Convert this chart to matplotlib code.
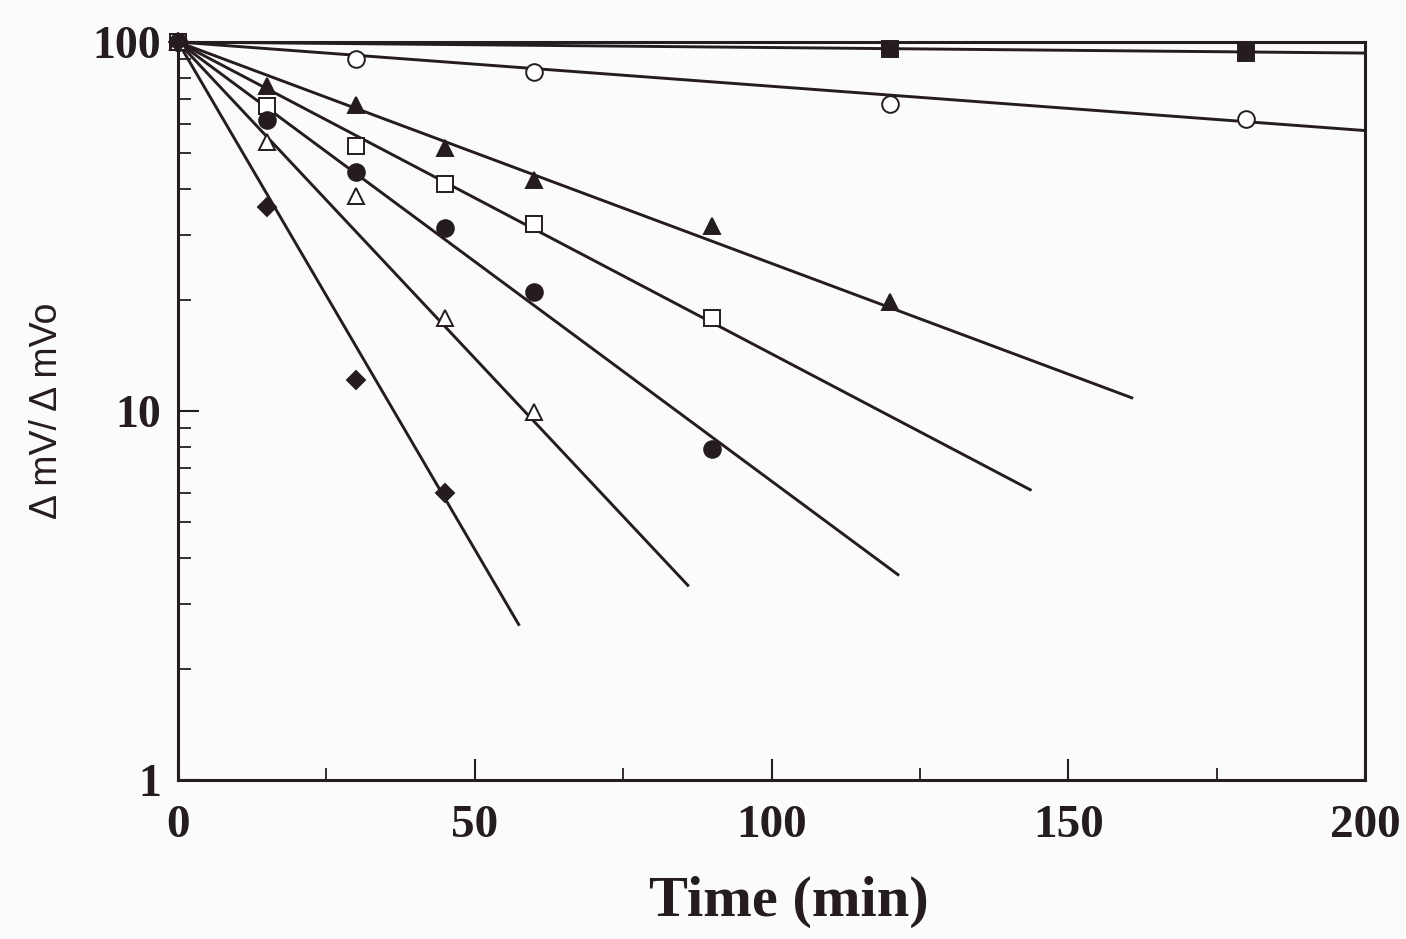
import matplotlib
matplotlib.use("Agg")
import matplotlib.pyplot as plt
import numpy as np
from matplotlib.ticker import FixedLocator, NullFormatter, LogLocator

INK = "#251c20"

# Data (time in min, relative response in %)
t_sq_f = [0, 120, 180]
v_sq_f = [100, 95.7, 93.4]
t_ci_o = [0, 30, 60, 120, 180]
v_ci_o = [100, 89.9, 82.9, 67.9, 61.8]
t_tr_f = [0, 15, 30, 45, 60, 90, 120]
v_tr_f = [100, 76.0, 67.5, 51.6, 42.3, 31.7, 19.7]
t_sq_o = [0, 15, 30, 45, 60, 90]
v_sq_o = [100, 67.1, 52.2, 41.2, 32.1, 17.9]
t_ci_f = [0, 15, 30, 45, 60, 90]
v_ci_f = [100, 61.5, 44.5, 31.3, 21.0, 7.89]
t_tr_o = [0, 15, 30, 45, 60]
v_tr_o = [100, 53.6, 38.3, 17.9, 9.94]
t_di_f = [0, 15, 30, 45]
v_di_f = [100, 35.7, 12.1, 6.0]

# fitted first-order lines: log10(y) = 2 - k*t, drawn up to t_end
fit_k = [0.00015, 0.0012, 0.0060, 0.00845, 0.0119, 0.01714, 0.0275]
fit_end = [200, 200, 160.7, 143.6, 121.3, 85.9, 57.4]

xticks = [0, 50, 100, 150, 200]
yticks = [1, 10, 100]

fig = plt.figure(figsize=(14.06, 9.39), dpi=100)
fig.patch.set_facecolor("#fbfbfb")
ax = fig.add_axes([178/1406, 1-780/939, (1365-178)/1406, (780-42)/939])
ax.set_facecolor("#fbfbfb")
ax.set_yscale("log")
ax.set_xlim(0, 200)
ax.set_ylim(1, 100)

for k, te in zip(fit_k, fit_end):
    tt = np.linspace(0, te, 50)
    ax.plot(tt, 10 ** (2 - k * tt), color=INK, lw=2.1, zorder=2)

ms = 12
series = [
    (t_sq_f, v_sq_f, "s", INK, ms),
    (t_ci_o, v_ci_o, "o", "white", ms),
    (t_tr_f, v_tr_f, "^", INK, ms),
    (t_sq_o, v_sq_o, "s", "white", ms),
    (t_ci_f, v_ci_f, "o", INK, ms),
    (t_tr_o, v_tr_o, "^", "white", ms),
    (t_di_f, v_di_f, "D", INK, 9),
]
for t, v, m, fc, s in series:
    ax.plot(t, v, linestyle="none", marker=m, markersize=s, markerfacecolor=fc,
            markeredgecolor=INK, markeredgewidth=1.4, zorder=3, clip_on=False)

for sp in ax.spines.values():
    sp.set_linewidth(2.2)
    sp.set_color(INK)

ax.set_xticks(xticks)
ax.xaxis.set_minor_locator(FixedLocator([25, 75, 125, 175]))
ax.set_yticks(yticks)
ax.set_yticklabels([str(y) for y in yticks])
ax.yaxis.set_minor_locator(LogLocator(base=10, subs=np.arange(2, 10)))
ax.yaxis.set_minor_formatter(NullFormatter())
ax.tick_params(which="major", direction="in", length=15, width=1.5, color=INK)
ax.tick_params(which="minor", direction="in", length=9, width=1.3, color=INK)
ax.tick_params(axis="x", which="major", pad=18)
ax.tick_params(axis="y", which="major", pad=12)
for lab in ax.get_xticklabels():
    lab.set_fontfamily("Liberation Serif")
    lab.set_fontweight("bold")
    lab.set_fontsize(34)
    lab.set_color(INK)
for lab in ax.get_yticklabels():
    lab.set_fontfamily("Liberation Serif")
    lab.set_fontweight("bold")
    lab.set_fontsize(33)
    lab.set_color(INK)

ax.set_xlabel("Time (min)", fontfamily="Liberation Serif", fontweight="bold",
              fontsize=42, color=INK)
ax.xaxis.set_label_coords(0.515, -0.13)
ax.set_ylabel("Δ mV/ Δ mVo", fontfamily="Liberation Sans", fontsize=27,
              color=INK, labelpad=20)

fig.savefig("out.png", dpi=100, facecolor=fig.get_facecolor())
